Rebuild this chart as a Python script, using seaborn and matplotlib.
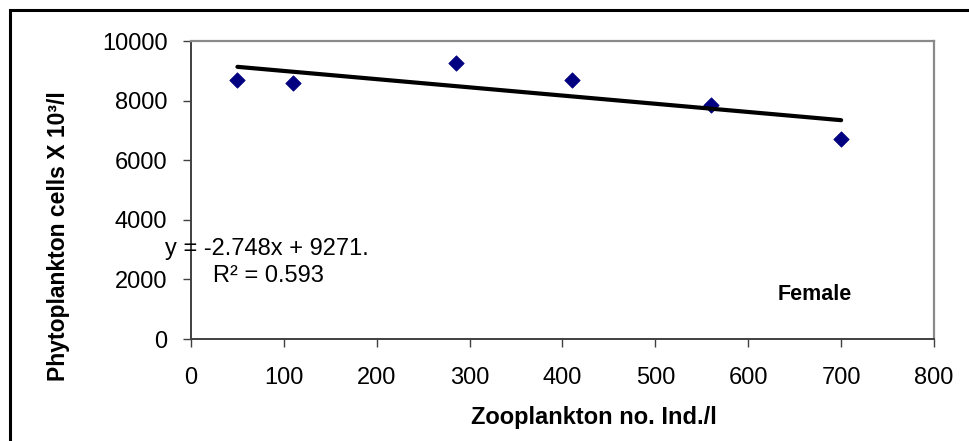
import matplotlib
matplotlib.use("Agg")
import matplotlib.pyplot as plt
import seaborn as sns
from matplotlib.patches import Rectangle

# Datos
zooplankton = [50, 110, 285, 410, 560, 700]
phytoplankton = [8700, 8600, 9270, 8680, 7850, 6700]
x_ticks = [0, 100, 200, 300, 400, 500, 600, 700, 800]
y_ticks = [0, 2000, 4000, 6000, 8000, 10000]

sns.set_theme(style="white")
plt.rcParams['font.family'] = ['Liberation Sans', 'DejaVu Sans']
plt.rcParams['text.color'] = 'black'
plt.rcParams['axes.labelcolor'] = 'black'

fig = plt.figure(figsize=(9.7, 4.41), dpi=100)
ax = fig.add_axes([191 / 970, 102 / 441, 743 / 970, 298 / 441])

# Puntos y recta de tendencia
sns.regplot(x=zooplankton, y=phytoplankton, ax=ax, ci=None, marker='D',
            scatter_kws=dict(s=62, color='#000080', edgecolor='#000080', linewidths=0.5, alpha=1),
            line_kws=dict(color='black', lw=3, solid_capstyle='round'))

ax.set_xlim(0, 800)
ax.set_ylim(0, 10000)
ax.set_xticks(x_ticks)
ax.set_yticks(y_ticks)
ax.tick_params(axis='both', direction='out', length=6, width=1, color='#404040',
               labelsize=17, labelcolor='black')
ax.tick_params(axis='y', pad=11, left=True)
ax.tick_params(axis='x', pad=14, bottom=True)

# Bordes del area de trazado
for side in ['left', 'bottom']:
    ax.spines[side].set_color('#404040')
    ax.spines[side].set_linewidth(1.4)
for side in ['top', 'right']:
    ax.spines[side].set_color('#8a8a8a')
    ax.spines[side].set_linewidth(1.6)

# Etiquetas
ax.set_xlabel('Zooplankton no. Ind./l', fontsize=17, fontweight='bold', va='center')
ax.set_ylabel('Phytoplankton cells X 10³/l', fontsize=16.5, fontweight='bold', va='center')
ax.xaxis.set_label_coords(0.542, -0.262)
ax.yaxis.set_label_coords(-0.179, 0.345)

ax.text(-0.035, 0.302, 'y = -2.748x + 9271.', transform=ax.transAxes,
        fontsize=17, ha='left', va='center')
ax.text(0.0296, 0.211, 'R² = 0.593', transform=ax.transAxes,
        fontsize=17, ha='left', va='center')
ax.text(0.84, 0.151, 'Female', transform=ax.transAxes,
        fontsize=15.5, fontweight='bold', ha='center', va='center')

# Marco exterior
fig.patches.append(Rectangle((10 / 970, -0.2), 1.2, 1.2 - 10 / 441, transform=fig.transFigure,
                             fill=False, edgecolor='black', lw=2.2, clip_on=False))

fig.savefig('out.png', dpi=100)
